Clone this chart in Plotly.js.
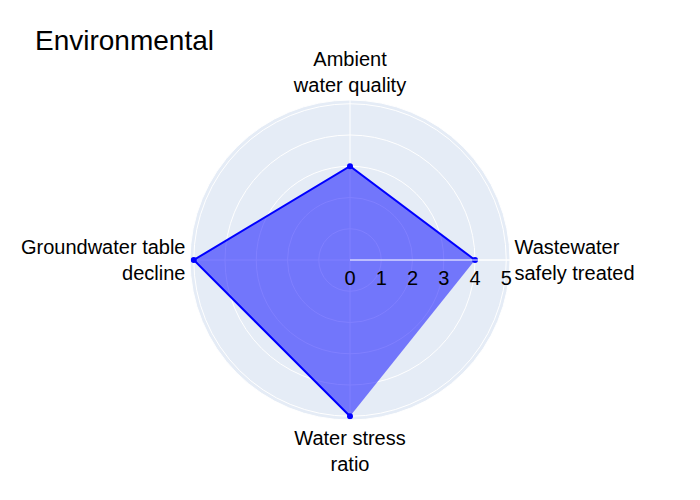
<!DOCTYPE html>
<html>
<head>
<meta charset="utf-8">
<script src="https://cdn.plot.ly/plotly-3.0.1.min.js"></script>
<style>body{margin:0;padding:0;}#chart{width:700px;height:500px;}</style>
</head>
<body>
<div id="chart"></div>
<script>
var categories = ["Wastewater<br>safely treated", "Ambient<br>water quality", "Groundwater table<br>decline", "Water stress<br>ratio"];
var values = [4, 3, 5, 5];
var chartTitle = "Environmental";

var data = [{
  type: "scatterpolar",
  r: values,
  theta: categories,
  fill: "toself",
  fillcolor: "rgba(0,0,255,0.5)",
  line: {color: "blue"},
  marker: {color: "blue"},
  mode: "lines+markers"
}];

var layout = {
  width: 700,
  height: 500,
  font: {family: "Arial, 'Liberation Sans', sans-serif", size: 20, color: "#000"},
  title: {text: chartTitle, x: 0.05, font: {size: 28, color: "#000"}},
  showlegend: false,
  paper_bgcolor: "white",
  polar: {
    bgcolor: "#E5ECF6",
    radialaxis: {visible: true, gridcolor: "white", linecolor: "white", ticks: ""},
    angularaxis: {gridcolor: "white", linecolor: "white", ticks: ""}
  }
};

Plotly.newPlot("chart", data, layout, {displayModeBar: false});
</script>
</body>
</html>
